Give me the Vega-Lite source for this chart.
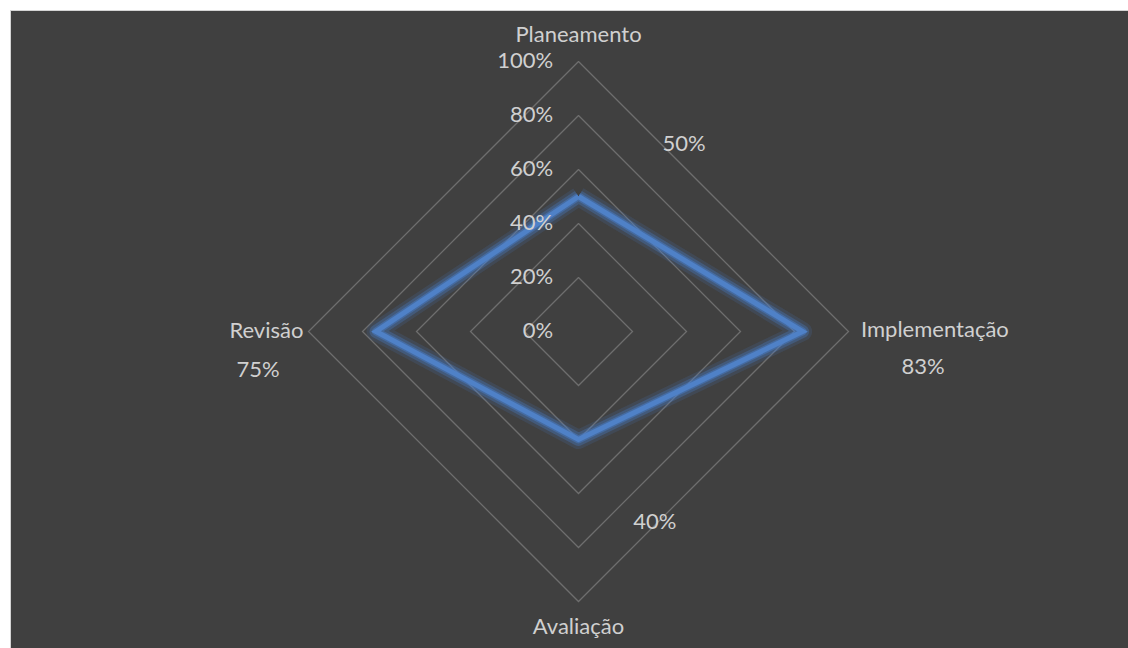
{
  "$schema": "https://vega.github.io/schema/vega-lite/v6.json",
  "width": 1119,
  "height": 639,
  "autosize": "none",
  "padding": {"left": 10, "top": 10, "right": 0, "bottom": 0},
  "background": "#ffffff",
  "config": {
    "view": {"fill": "#404040", "stroke": "#d4d4d4", "strokeWidth": 1},
    "text": {"font": "Lato", "fontSize": 22, "color": "#d0d0d0", "baseline": "middle"}
  },
  "datasets": {
    "grid": [
      {"level": 0.2, "k": 0, "gx": 0, "gy": 0.2}, {"level": 0.2, "k": 1, "gx": 0.2, "gy": 0}, {"level": 0.2, "k": 2, "gx": 0, "gy": -0.2}, {"level": 0.2, "k": 3, "gx": -0.2, "gy": 0}, {"level": 0.2, "k": 4, "gx": 0, "gy": 0.2},
      {"level": 0.4, "k": 0, "gx": 0, "gy": 0.4}, {"level": 0.4, "k": 1, "gx": 0.4, "gy": 0}, {"level": 0.4, "k": 2, "gx": 0, "gy": -0.4}, {"level": 0.4, "k": 3, "gx": -0.4, "gy": 0}, {"level": 0.4, "k": 4, "gx": 0, "gy": 0.4},
      {"level": 0.6, "k": 0, "gx": 0, "gy": 0.6}, {"level": 0.6, "k": 1, "gx": 0.6, "gy": 0}, {"level": 0.6, "k": 2, "gx": 0, "gy": -0.6}, {"level": 0.6, "k": 3, "gx": -0.6, "gy": 0}, {"level": 0.6, "k": 4, "gx": 0, "gy": 0.6},
      {"level": 0.8, "k": 0, "gx": 0, "gy": 0.8}, {"level": 0.8, "k": 1, "gx": 0.8, "gy": 0}, {"level": 0.8, "k": 2, "gx": 0, "gy": -0.8}, {"level": 0.8, "k": 3, "gx": -0.8, "gy": 0}, {"level": 0.8, "k": 4, "gx": 0, "gy": 0.8},
      {"level": 1.0, "k": 0, "gx": 0, "gy": 1.0}, {"level": 1.0, "k": 1, "gx": 1.0, "gy": 0}, {"level": 1.0, "k": 2, "gx": 0, "gy": -1.0}, {"level": 1.0, "k": 3, "gx": -1.0, "gy": 0}, {"level": 1.0, "k": 4, "gx": 0, "gy": 1.0}
    ],
    "series": [
      {"cat": "Planeamento", "value": 0.5, "k": 0, "x": 0, "y": 0.5},
      {"cat": "Implementação", "value": 0.83, "k": 1, "x": 0.83, "y": 0},
      {"cat": "Avaliação", "value": 0.4, "k": 2, "x": 0, "y": -0.4},
      {"cat": "Revisão", "value": 0.75, "k": 3, "x": -0.75, "y": 0},
      {"cat": "Planeamento", "value": 0.5, "k": 4, "x": 0, "y": 0.5}
    ],
    "ticks": [
      {"label": "0%", "tx": -0.094, "ty": 0},
      {"label": "20%", "tx": -0.094, "ty": 0.2},
      {"label": "40%", "tx": -0.094, "ty": 0.4},
      {"label": "60%", "tx": -0.094, "ty": 0.6},
      {"label": "80%", "tx": -0.094, "ty": 0.8},
      {"label": "100%", "tx": -0.094, "ty": 1.0}
    ],
    "cats": [
      {"cat": "Planeamento", "cx": 0, "cy": 1.098},
      {"cat": "Implementação", "cx": 1.320, "cy": 0.006},
      {"cat": "Avaliação", "cx": 0, "cy": -1.094},
      {"cat": "Revisão", "cx": -1.156, "cy": 0.0}
    ],
    "vlabels": [
      {"cat": "Planeamento", "value": 0.5, "lx": 0.391, "ly": 0.694},
      {"cat": "Implementação", "value": 0.83, "lx": 1.276, "ly": -0.131},
      {"cat": "Avaliação", "value": 0.4, "lx": 0.283, "ly": -0.706},
      {"cat": "Revisão", "value": 0.75, "lx": -1.187, "ly": -0.143}
    ]
  },
  "layer": [
    {
      "data": {"name": "grid"},
      "mark": {"type": "line", "color": "#6e6e6e", "strokeWidth": 1.3, "strokeJoin": "miter"},
      "encoding": {
        "x": {"field": "gx", "type": "quantitative", "scale": {"domain": [-2.1056, 2.0389], "nice": false, "zero": false}, "axis": null},
        "y": {"field": "gy", "type": "quantitative", "scale": {"domain": [-1.1759, 1.1907], "nice": false, "zero": false}, "axis": null},
        "detail": {"field": "level", "type": "nominal"},
        "order": {"field": "k", "type": "quantitative"}
      }
    },
    {
      "data": {"name": "series"},
      "mark": {"type": "line", "color": "#4a80d0", "strokeWidth": 19, "opacity": 0.15, "strokeJoin": "round"},
      "encoding": {
        "x": {"field": "x", "type": "quantitative"},
        "y": {"field": "y", "type": "quantitative"},
        "order": {"field": "k", "type": "quantitative"}
      }
    },
    {
      "data": {"name": "series"},
      "mark": {"type": "line", "color": "#4a80d0", "strokeWidth": 13, "opacity": 0.3, "strokeJoin": "round"},
      "encoding": {
        "x": {"field": "x", "type": "quantitative"},
        "y": {"field": "y", "type": "quantitative"},
        "order": {"field": "k", "type": "quantitative"}
      }
    },
    {
      "data": {"name": "series"},
      "mark": {"type": "line", "color": "#4a80d0", "strokeWidth": 8, "opacity": 0.45, "strokeJoin": "round"},
      "encoding": {
        "x": {"field": "x", "type": "quantitative"},
        "y": {"field": "y", "type": "quantitative"},
        "order": {"field": "k", "type": "quantitative"}
      }
    },
    {
      "data": {"name": "series"},
      "mark": {"type": "line", "color": "#4f81c7", "strokeWidth": 5, "strokeJoin": "miter"},
      "encoding": {
        "x": {"field": "x", "type": "quantitative"},
        "y": {"field": "y", "type": "quantitative"},
        "order": {"field": "k", "type": "quantitative"}
      }
    },
    {
      "data": {"name": "ticks"},
      "mark": {"type": "text", "align": "right"},
      "encoding": {
        "x": {"field": "tx", "type": "quantitative"},
        "y": {"field": "ty", "type": "quantitative"},
        "text": {"field": "label"}
      }
    },
    {
      "data": {"name": "cats"},
      "mark": {"type": "text", "align": "center"},
      "encoding": {
        "x": {"field": "cx", "type": "quantitative"},
        "y": {"field": "cy", "type": "quantitative"},
        "text": {"field": "cat"}
      }
    },
    {
      "data": {"name": "vlabels"},
      "mark": {"type": "text", "align": "center"},
      "encoding": {
        "x": {"field": "lx", "type": "quantitative"},
        "y": {"field": "ly", "type": "quantitative"},
        "text": {"field": "value", "type": "quantitative", "format": ".0%"}
      }
    }
  ]
}
